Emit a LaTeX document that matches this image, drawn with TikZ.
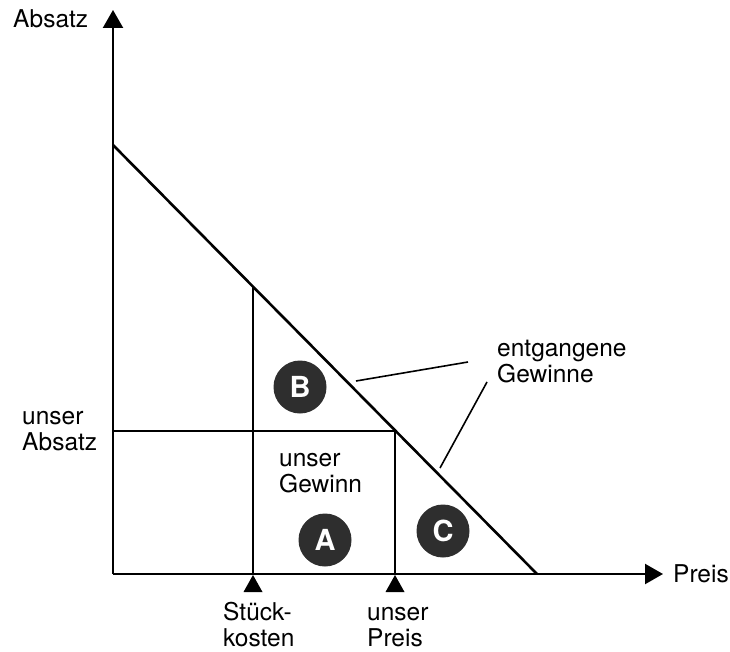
\documentclass[tikz,border=0pt]{standalone}
\usepackage{fontspec}
\setmainfont{TeX Gyre Heros}
\usetikzlibrary{arrows.meta}
\begin{document}
\begin{tikzpicture}[x=1pt,y=-1pt,
  lbl/.style={inner sep=0pt,anchor=base west,align=left,font=\fontsize{24.5}{26}\selectfont},
  axis/.style={line width=2.2pt,-{Triangle[width=20pt,length=18pt]}},
  thin/.style={line width=1.6pt},
  lead/.style={line width=1.6pt},
  ball/.style={circle,fill=black!82,minimum size=53pt,inner sep=0pt,text=white,font=\fontsize{29}{29}\selectfont\bfseries},
  tick/.style={fill=black}]
\useasboundingbox (0,0) rectangle (730,652);
% points
\coordinate (O) at (113,574);
\coordinate (ytop) at (113,10);
\coordinate (xend) at (663,574);
\coordinate (D0) at (113,145);
\coordinate (D1) at (537,574);
\coordinate (K) at (253,574);
\coordinate (Ktop) at (253,287);
\coordinate (P) at (395,574);
\coordinate (Q) at (113,431);
\coordinate (PQ) at (395,431);
% axes
\draw[axis] (O) -- (ytop);
\draw[axis] (O) -- (xend);
% demand line
\draw[line width=2.6pt] (D0) -- (D1);
% inner lines
\draw[thin] (K) -- (Ktop);
\draw[thin] (Q) -- (PQ) -- (P);
% tick triangles
\fill[tick] (253,575) -- (262.5,592) -- (243.5,592) -- cycle;
\fill[tick] (395,575) -- (404.5,592) -- (385.5,592) -- cycle;
% circles
\node[ball] (B) at (300,387) {B};
\node[ball] (A) at (325,540) {A};
\node[ball] (C) at (443,531) {C};
% labels (anchor = baseline of last line)
\node[lbl] (absatz) at (13,28) {Absatz};
\node[lbl] (preis) at (673,582) {Preis};
\node[lbl] (stueck) at (223,646) {Stück-\\kosten};
\node[lbl] (upreis) at (367,646) {unser\\Preis};
\node[lbl] (uabsatz) at (22,450) {unser\\Absatz};
\node[lbl] (gewinn) at (279,492) {unser\\Gewinn};
\node[lbl] (entg) at (497,382) {entgangene\\Gewinne};
% leader lines
\coordinate (l1a) at (356,381);
\coordinate (l1b) at (468,362);
\coordinate (l2a) at (487,382);
\coordinate (l2b) at (440,468);
\draw[lead] (l1a) -- (l1b);
\draw[lead] (l2a) -- (l2b);
\end{tikzpicture}
\end{document}
